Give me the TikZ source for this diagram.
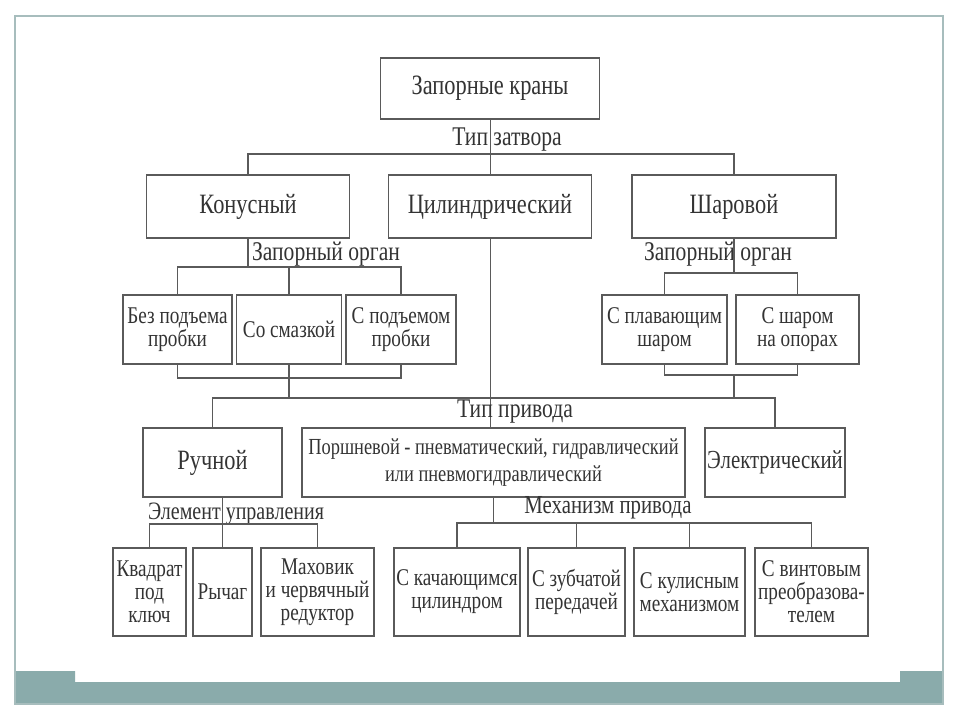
\documentclass[tikz,border=0pt]{standalone}
\usepackage{fontspec}
\setmainfont{Liberation Serif}[FakeStretch=0.8]
\usetikzlibrary{calc}
\definecolor{frameC}{HTML}{A7BDBD}
\definecolor{barC}{HTML}{8AABAB}
\definecolor{lineC}{HTML}{5A5A5A}
\definecolor{txtC}{HTML}{333333}
\begin{document}
\begin{tikzpicture}[x=1pt,y=-1pt,
  box/.style={draw=lineC, line width=1.4pt, inner sep=0pt, text=txtC, align=center},
  bigf/.style={font=\fontsize{28}{30}\selectfont},
  smf/.style={font=\fontsize{24}{23}\selectfont},
  lab/.style={text=txtC, inner sep=0pt, font=\fontsize{27}{28}\selectfont},
  con/.style={draw=lineC, line width=1.1pt},
  thin/.style={draw=lineC, line width=0.8pt}]
\useasboundingbox (0,0) rectangle (960,720);
% slide frame
\fill[barC] (15,671) -- (75,671) -- (75,682) -- (900,682) -- (900,671) -- (943,671) -- (943,704) -- (15,704) -- cycle;
\draw[frameC, line width=1.5pt] (15,16) rectangle (943,704);

% level 0
\node[box,bigf,minimum width=219pt,minimum height=61pt] (root) at (490,88.5) {Запорные краны};
% level 1
\node[box,bigf,minimum width=203pt,minimum height=63pt] (kon) at (248,206.5) {Конусный};
\node[box,bigf,minimum width=203pt,minimum height=63pt] (cyl) at (490,206.5) {Цилиндрический};
\node[box,bigf,minimum width=204pt,minimum height=63pt] (shar) at (734,206.5) {Шаровой};
\coordinate (bus1) at (0,154);
\draw[thin] (root.south) -- (root.south |- cyl.north);
\draw[con] (kon.north) -- (kon.north |- bus1) -- (shar.north |- bus1) -- (shar.north);
\node[lab] (t1) at (507,140) {Тип затвора};

% level 2 left
\node[box,smf,minimum width=109pt,minimum height=69pt] (bp) at (177.5,329.5) {Без подъема\\пробки};
\node[box,smf,minimum width=105pt,minimum height=69pt] (sm) at (289,329.5) {Со смазкой};
\node[box,smf,minimum width=110pt,minimum height=69pt] (sp) at (401,329.5) {С подъемом\\пробки};
\node[lab] (zo1) at (326,254) {Запорный орган};
\coordinate (bus2) at (0,267);
\draw[con] (kon.south) -- (kon.south |- bus2);
\draw[con] (bp.north) -- (bp.north |- bus2) -- (sp.north |- bus2) -- (sp.north);
\draw[con] (sm.north) -- (sm.north |- bus2);
\coordinate (br3) at (0,378);
\draw[con] (bp.south) -- (bp.south |- br3) -- (sp.south |- br3) -- (sp.south);

% level 2 right
\node[box,smf,minimum width=125pt,minimum height=69pt] (pl) at (664.5,329.5) {С плавающим\\шаром};
\node[box,smf,minimum width=123pt,minimum height=69pt] (op) at (797.5,329.5) {С шаром\\на опорах};
\node[lab] (zo2) at (718,254) {Запорный орган};
\coordinate (bus2b) at (0,273);
\draw[con] (shar.south) -- (shar.south |- bus2b);
\draw[con] (pl.north) -- (pl.north |- bus2b) -- (op.north |- bus2b) -- (op.north);
\coordinate (br3b) at (0,375);
\draw[con] (pl.south) -- (pl.south |- br3b) -- (op.south |- br3b) -- (op.south);

% level 3
\coordinate (bus4) at (0,398);
\node[box,bigf,minimum width=139pt,minimum height=69pt] (ruch) at (212.5,462.5) {Ручной};
\node[box,smf,minimum width=383pt,minimum height=69pt,font=\fontsize{23}{27}\selectfont] (por) at (493.5,462.5) {Поршневой - пневматический, гидравлический\\или пневмогидравлический};
\node[box,minimum width=140pt,minimum height=69pt,font=\fontsize{26}{28}\selectfont] (el) at (775,462.5) {Электрический};
\draw[con] (sm.south) -- (sm.south |- bus4);
\draw[con] (shar.south |- br3b) -- (shar.south |- bus4);
\draw[con] (ruch.north) -- (ruch.north |- bus4) -- (el.north |- bus4) -- (el.north);
\draw[thin] (cyl.south) -- (cyl.south |- por.north);
\node[lab] (tp) at (515,412) {Тип привода};

% level 4 left
\node[box,smf,minimum width=73pt,minimum height=88pt] (kv) at (149.5,592) {Квадрат\\под\\ключ};
\node[box,smf,minimum width=59pt,minimum height=88pt] (ry) at (222.5,592) {Рычаг};
\node[box,smf,minimum width=113pt,minimum height=88pt] (ma) at (317.5,592) {Маховик\\и червячный\\редуктор};
\node[lab,font=\fontsize{25}{26}\selectfont] (eu) at (236,514) {Элемент управления};
\coordinate (bus5) at (0,524);
\draw[con] (ry.north) -- (ry.north |- ruch.south);
\draw[con] (kv.north) -- (kv.north |- bus5) -- (ma.north |- bus5) -- (ma.north);

% level 4 right
\node[box,smf,minimum width=126pt,minimum height=88pt] (kc) at (457,592) {С качающимся\\цилиндром};
\node[box,smf,minimum width=97pt,minimum height=88pt] (zu) at (576.5,592) {С зубчатой\\передачей};
\node[box,smf,minimum width=111pt,minimum height=88pt] (ku) at (689.5,592) {С кулисным\\механизмом};
\node[box,smf,minimum width=113pt,minimum height=88pt] (vi) at (811.5,592) {С винтовым\\преобразова-\\телем};
\node[lab,font=\fontsize{26}{27}\selectfont] (mp) at (608,508) {Механизм привода};
\coordinate (bus6) at (0,523);
\draw[con] (por.south) -- (por.south |- bus6);
\draw[con] (kc.north) -- (kc.north |- bus6) -- (vi.north |- bus6) -- (vi.north);
\draw[con] (zu.north) -- (zu.north |- bus6);
\draw[con] (ku.north) -- (ku.north |- bus6);
\end{tikzpicture}
\end{document}
